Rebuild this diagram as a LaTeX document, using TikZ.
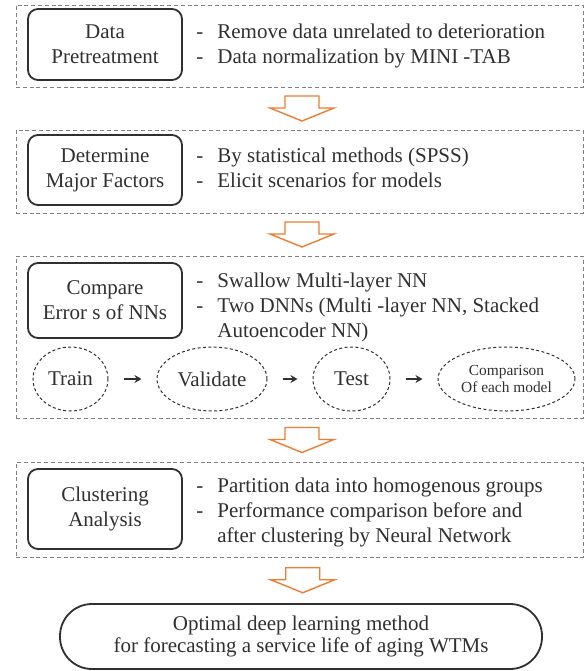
\documentclass[tikz,border=0pt]{standalone}
\usepackage{fontspec}
\setmainfont{Liberation Serif}
\usetikzlibrary{calc,shapes.geometric,arrows.meta}
\definecolor{inkgray}{HTML}{303030}
\definecolor{framegray}{HTML}{808080}
\definecolor{arroworange}{HTML}{ED7D31}
\tikzset{
  stage/.style={draw=framegray, dash pattern=on 2pt off 1.4pt, line width=0.4pt,
    minimum width=283.5pt, inner sep=0pt},
  task/.style={draw=inkgray, line width=0.9pt, rounded corners=5pt, minimum width=77pt,
    align=center, inner sep=0pt, text=inkgray, font=\fontsize{10.5}{12.5}\selectfont},
  notes/.style={anchor=west, inner sep=0pt, text=inkgray, font=\fontsize{10.5}{12.5}\selectfont},
  phase/.style={ellipse, draw=inkgray, dash pattern=on 1.5pt off 1.2pt, line width=0.5pt,
    minimum height=32pt, inner sep=0pt, align=center, text=inkgray,
    font=\fontsize{10.5}{12.5}\selectfont},
  flow/.style={-{Stealth[length=3.5pt,width=4pt]}, line width=0.8pt, draw=inkgray,
    shorten >=7.5pt, shorten <=7.5pt},
  blockarrow/.style={draw=arroworange, fill=white, line width=0.7pt, line join=miter},
  goal/.style={draw=inkgray, line width=0.9pt, rounded corners=16pt, minimum width=241pt,
    minimum height=32.5pt, align=center, inner sep=0pt, text=inkgray,
    font=\fontsize{10.5}{11}\selectfont}
}
\begin{document}
\begin{tikzpicture}[x=0.5pt,y=-0.5pt]
\useasboundingbox (0,0) rectangle (585,671);
% dashed stage frames
\node[stage, minimum height=41pt] (f1) at (299.5,46) {};
\node[stage, minimum height=41.5pt] (f2) at (299.5,171.5) {};
\node[stage, minimum height=81pt] (f3) at (299.5,337) {};
\node[stage, minimum height=47.5pt] (f4) at (299.5,509.5) {};
%
% stage titles
\node[task, minimum height=35.5pt] (pretreat) at (105,44.5) {Data\\Pretreatment};
\node[task, minimum height=35pt] (factors) at (105,170) {Determine\\Major Factors};
\node[task, minimum height=37.5pt] (compare) at (105,300.5) {Compare\\Error s of NNs};
\node[task, minimum height=40pt] (cluster) at (105,509) {Clustering\\Analysis};
%
% stage notes
\node[notes] (n1) at (196,45.5) {\begin{tabular}{@{}l@{\hspace{7pt}}l@{}}
- & Remove data unrelated to deterioration\\
- & Data normalization by MINI -TAB\end{tabular}};
\node[notes] (n2) at (196,170) {\begin{tabular}{@{}l@{\hspace{7pt}}l@{}}
- & By statistical methods (SPSS)\\
- & Elicit scenarios for models\end{tabular}};
\node[notes] (n3) at (196,307) {\begin{tabular}{@{}l@{\hspace{7pt}}l@{}}
- & Swallow Multi-layer NN\\
- & Two DNNs (Multi -layer NN, Stacked\\
  & Autoencoder NN)\end{tabular}};
\node[notes] (n4) at (196,512) {\begin{tabular}{@{}l@{\hspace{7pt}}l@{}}
- & Partition data into homogenous groups\\
- & Performance comparison before and\\
  & after clustering by Neural Network\end{tabular}};
%
% train / validate / test
\node[phase, minimum width=37.5pt] (train) at (70.5,379) {Train};
\node[phase, minimum width=55pt] (validate) at (212,379) {Validate};
\node[phase, minimum width=38.5pt] (test) at (351.5,379) {Test};
\node[phase, minimum width=68.5pt, font=\fontsize{7.7}{8.6}\selectfont] (cmp) at (506.5,379)
  {Comparison\\Of each model};
\draw[flow] (train) -- (validate);
\draw[flow] (validate) -- (test);
\draw[flow] (test) -- (cmp);
%
% result
\node[goal] (result) at (301,636.5) {Optimal deep learning method\\
  for forecasting a service life of aging WTMs};
%
% orange arrows between stages
\foreach \a/\b in {f1/f2, f2/f3, f3/f4, f4/result}{
  \coordinate (mid) at ($(\a.south)!0.5!(\b.north)$);
  \draw[blockarrow] ($(mid)+(2.5,-12.5)$) ++(-17,0) -- ++(34,0) -- ++(0,12)
    -- ++(15,0) -- ++(-32,13) -- ++(-32,-13) -- ++(15,0) -- cycle;
}
\end{tikzpicture}
\end{document}
